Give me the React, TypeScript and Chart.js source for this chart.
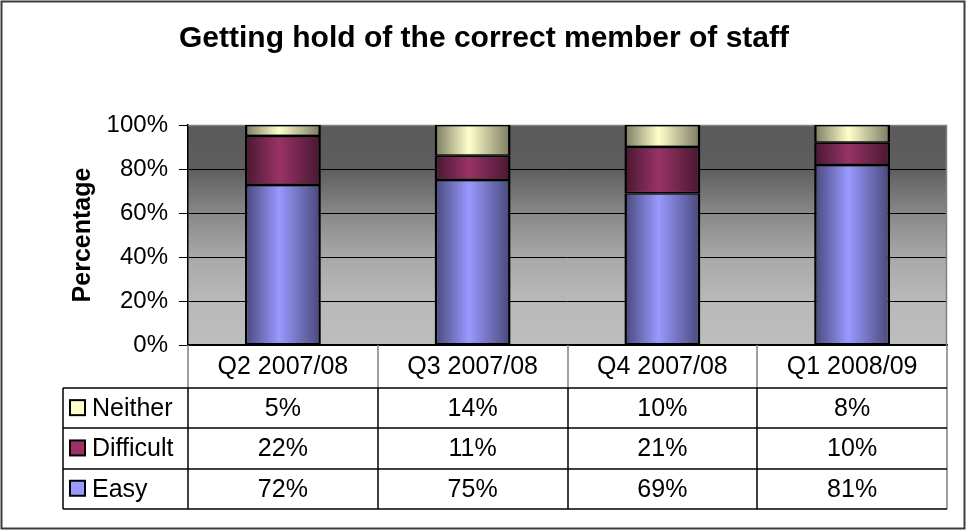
import React, { useEffect, useRef } from 'react';
import { Chart, registerables } from 'chart.js';

Chart.register(...registerables);

const TITLE = 'Getting hold of the correct member of staff';
const Y_TITLE = 'Percentage';
const categories = ['Q2 2007/08', 'Q3 2007/08', 'Q4 2007/08', 'Q1 2008/09'];
const easy = [72, 75, 69, 81];
const difficult = [22, 11, 21, 10];
const neither = [5, 14, 10, 8];
const yTicks = [0, 20, 40, 60, 80, 100];

const FONT = 'Arial, "Liberation Sans", sans-serif';

const series = [
  { label: 'Easy', values: easy, light: '#9999ff', dark: '#48487a' },
  { label: 'Difficult', values: difficult, light: '#993366', dark: '#481730' },
  { label: 'Neither', values: neither, light: '#ffffcc', dark: '#7a7a60' },
];

const totals = categories.map((_, i) => easy[i] + difficult[i] + neither[i]);
const share = (vals: number[]) => vals.map((v, i) => (v / totals[i]) * 100);

const BAR_PCT = 0.4;

function barGradient(ctx: any, s: any) {
  const chart = ctx.chart;
  const ca = chart.chartArea;
  if (!ca || ctx.dataIndex === undefined) return s.light;
  const xs = chart.scales.x;
  const cx = xs.getPixelForValue(ctx.dataIndex);
  const half = ((ca.right - ca.left) / categories.length) * BAR_PCT / 2;
  const g = chart.ctx.createLinearGradient(cx - half, 0, cx + half, 0);
  g.addColorStop(0, s.dark);
  g.addColorStop(0.45, s.light);
  g.addColorStop(1, s.dark);
  return g;
}

const bgPlugin = {
  id: 'bgPlugin',
  beforeDraw(chart: any) {
    const { ctx, chartArea: ca, width, height } = chart;
    ctx.save();
    ctx.fillStyle = '#ffffff';
    ctx.fillRect(0, 0, width, height);
    ctx.strokeStyle = '#3c3c3c';
    ctx.lineWidth = 2;
    ctx.strokeRect(1.5, 1.5, 963, 527);
    const g = ctx.createLinearGradient(0, ca.top, 0, ca.bottom);
    g.addColorStop(0, '#5a5a5a');
    g.addColorStop(0.2, '#5e5e5e');
    g.addColorStop(0.4, '#888888');
    g.addColorStop(0.6, '#a8a8a8');
    g.addColorStop(0.8, '#b9b9b9');
    g.addColorStop(1, '#bdbdbd');
    ctx.fillStyle = g;
    ctx.fillRect(ca.left, ca.top, ca.right - ca.left, ca.bottom - ca.top);
    ctx.restore();
  },
  beforeDatasetsDraw(chart: any) {
    const { ctx, chartArea: ca } = chart;
    ctx.save();
    ctx.strokeStyle = '#808080';
    ctx.lineWidth = 1.5;
    ctx.beginPath();
    ctx.moveTo(ca.left, ca.top + 0.5);
    ctx.lineTo(ca.right - 0.5, ca.top + 0.5);
    ctx.lineTo(ca.right - 0.5, ca.bottom);
    ctx.stroke();
    ctx.restore();
  },
};

const tablePlugin = {
  id: 'tablePlugin',
  afterDraw(chart: any) {
    const { ctx, chartArea: ca } = chart;
    const xs = chart.scales.x;
    const n = categories.length;
    const cw = (ca.right - ca.left) / n;
    const headTop = ca.bottom;
    const headBot = ca.bottom + 43;
    const rowH = 40.3;
    const legendLeft = 63;
    const rows = [...series].reverse();
    const tableBot = headBot + rowH * rows.length;
    ctx.save();
    ctx.strokeStyle = '#808080';
    ctx.lineWidth = 1.5;
    for (let i = 0; i <= n; i++) {
      const x = Math.round(ca.left + i * cw);
      ctx.beginPath();
      ctx.moveTo(x, headTop);
      ctx.lineTo(x, headBot);
      ctx.stroke();
    }
    ctx.strokeStyle = '#000000';
    const vx = [legendLeft];
    for (let i = 0; i < n; i++) vx.push(Math.round(ca.left + i * cw));
    vx.forEach((x) => {
      ctx.beginPath();
      ctx.moveTo(x, headBot);
      ctx.lineTo(x, tableBot);
      ctx.stroke();
    });
    ctx.strokeStyle = '#808080';
    ctx.beginPath();
    ctx.moveTo(Math.round(ca.right), headBot);
    ctx.lineTo(Math.round(ca.right), tableBot);
    ctx.stroke();
    ctx.strokeStyle = '#000000';
    for (let r = 0; r <= rows.length; r++) {
      const y = Math.round(headBot + r * rowH);
      ctx.beginPath();
      ctx.moveTo(legendLeft, y);
      ctx.lineTo(ca.right, y);
      ctx.stroke();
    }
    ctx.fillStyle = '#000000';
    ctx.font = `25px ${FONT}`;
    ctx.textAlign = 'center';
    ctx.textBaseline = 'middle';
    categories.forEach((c, i) => {
      ctx.fillText(c, xs.getPixelForValue(i), (headTop + headBot) / 2 + 1);
    });
    rows.forEach((s, r) => {
      const cy = headBot + r * rowH + rowH / 2;
      ctx.fillStyle = s.light;
      ctx.fillRect(70, cy - 8, 15, 15);
      ctx.strokeStyle = '#000000';
      ctx.lineWidth = 2;
      ctx.strokeRect(70, cy - 8, 15, 15);
      ctx.fillStyle = '#000000';
      ctx.textAlign = 'left';
      ctx.fillText(s.label, 92, cy + 1);
      ctx.textAlign = 'center';
      s.values.forEach((v: number, i: number) => {
        ctx.fillText(`${v}%`, xs.getPixelForValue(i), cy + 1);
      });
    });
    ctx.restore();
  },
};

export default function App() {
  const ref = useRef<HTMLCanvasElement | null>(null);
  useEffect(() => {
    if (!ref.current) return;
    const chart = new Chart(ref.current, {
      type: 'bar',
      data: {
        labels: categories,
        datasets: series.map((s) => ({
          label: s.label,
          data: share(s.values),
          backgroundColor: (ctx: any) => barGradient(ctx, s),
          borderColor: '#000000',
          borderWidth: { top: 1.5, bottom: 1.5, left: 2.5, right: 2.5 },
          borderSkipped: false,
          barPercentage: BAR_PCT,
          categoryPercentage: 1,
        })),
      },
      options: {
        responsive: false,
        animation: false,
        events: [],
        layout: { padding: { top: 0, left: 0, right: 0, bottom: 0 } },
        plugins: {
          legend: { display: false },
          tooltip: { enabled: false },
          title: {
            display: true,
            text: TITLE,
            color: '#000000',
            font: { family: FONT, size: 30, weight: 'bold' },
            padding: { top: 21, bottom: 68 },
          },
        },
        scales: {
          x: {
            stacked: true,
            grid: { display: false },
            border: { display: true, color: '#000000', width: 1.5 },
            ticks: { display: false },
            afterFit: (s: any) => {
              s.height = 187;
            },
          },
          y: {
            stacked: true,
            min: 0,
            max: 100,
            afterBuildTicks: (s: any) => {
              s.ticks = yTicks.map((v) => ({ value: v }));
            },
            ticks: {
              callback: (v: any) => `${v}%`,
              color: '#000000',
              font: { family: FONT, size: 24 },
              padding: 11,
            },
            grid: {
              color: (c: any) => (c.tick && c.tick.value === 100 ? '#808080' : '#000000'),
              tickColor: '#000000',
              lineWidth: 1,
              tickLength: 9,
            },
            border: { display: true, color: '#000000', width: 1.5 },
            title: {
              display: true,
              text: Y_TITLE,
              color: '#000000',
              font: { family: FONT, size: 25, weight: 'bold' },
              padding: { top: 68, bottom: 0 },
            },
            afterFit: (s: any) => {
              s.width = 188;
            },
          },
          yRight: {
            position: 'right',
            min: 0,
            max: 100,
            grid: { display: false, drawOnChartArea: false },
            ticks: { display: false },
            border: { display: false },
            afterFit: (s: any) => {
              s.width = 21;
            },
          },
        },
      },
      plugins: [bgPlugin, tablePlugin],
    } as any);
    return () => chart.destroy();
  }, []);
  return (
    <canvas
      ref={ref}
      width={968}
      height={532}
      style={{ position: 'absolute', left: 0, top: 0, display: 'block' }}
    />
  );
}
